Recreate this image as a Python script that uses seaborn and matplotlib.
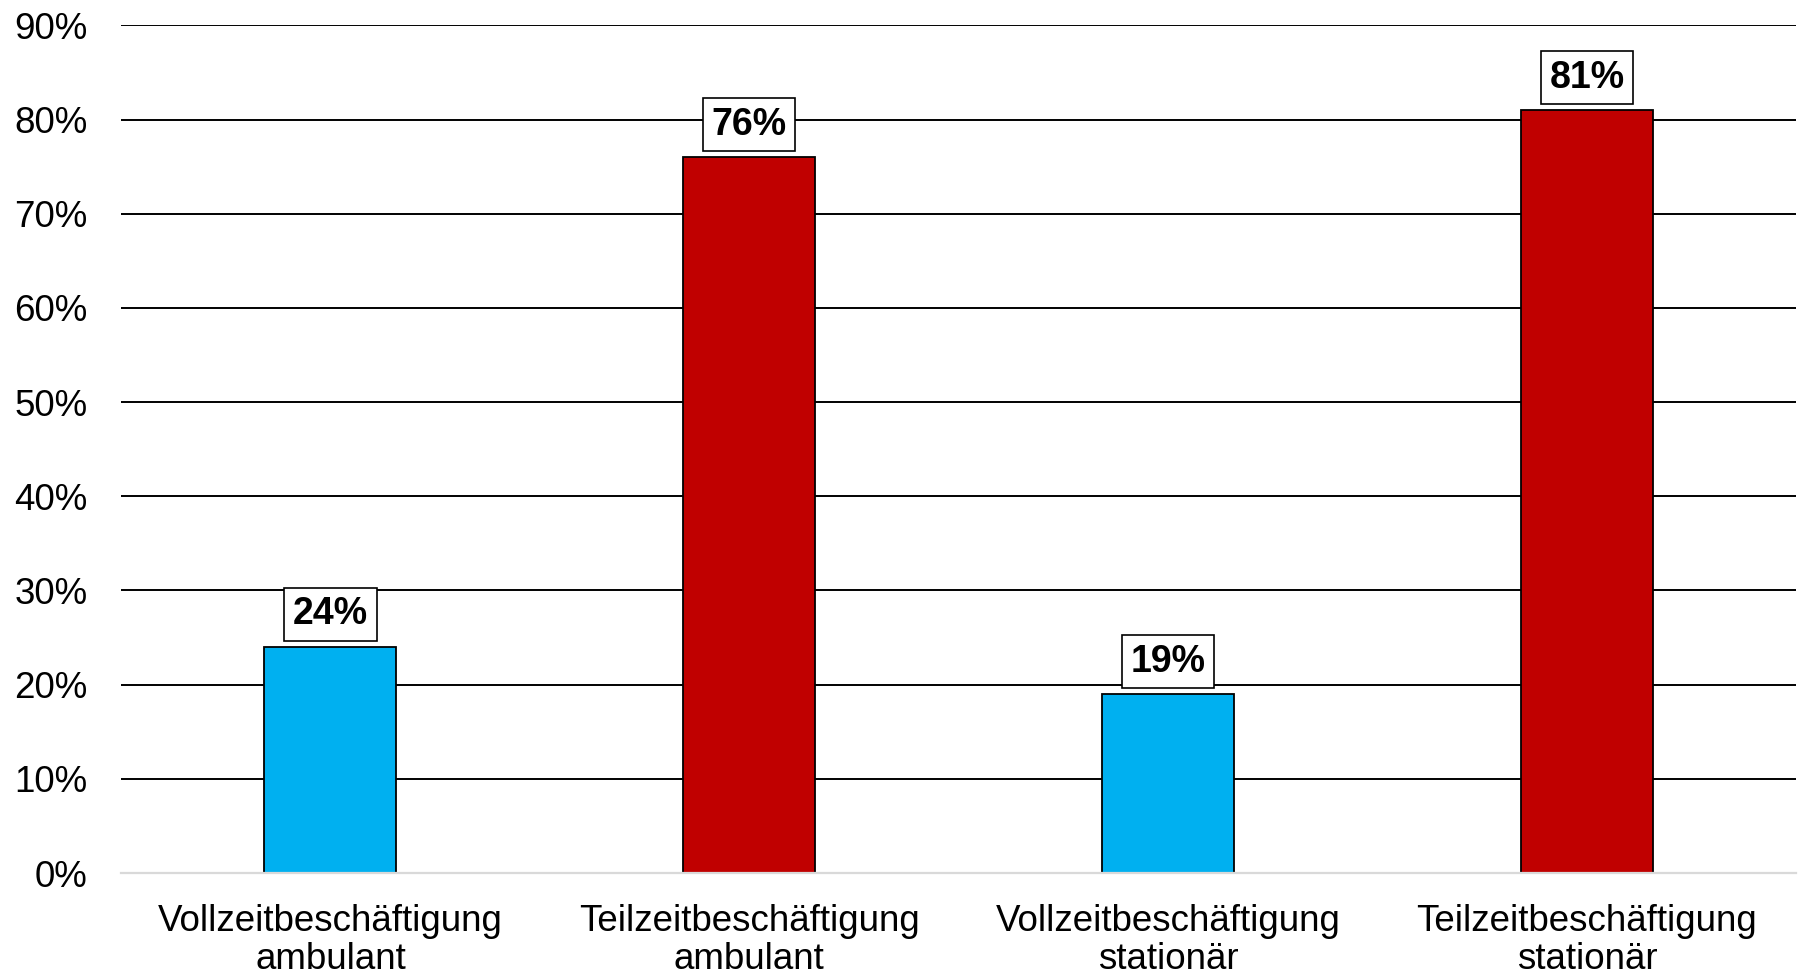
import matplotlib
matplotlib.use("Agg")
import matplotlib.pyplot as plt
import matplotlib.ticker as mticker
import seaborn as sns
import pandas as pd

categories = ["Vollzeitbeschäftigung\nambulant", "Teilzeitbeschäftigung\nambulant",
              "Vollzeitbeschäftigung\nstationär", "Teilzeitbeschäftigung\nstationär"]
shares = [24, 76, 19, 81]
bar_colors = ["#00B0F0", "#C00000", "#00B0F0", "#C00000"]
y_ticks = [0, 10, 20, 30, 40, 50, 60, 70, 80, 90]

sns.set_theme(style="white")
plt.rcParams["font.family"] = ["Liberation Sans", "DejaVu Sans"]

df = pd.DataFrame({"cat": categories, "share": shares})

fig = plt.figure(figsize=(18, 9.77), dpi=100)
ax = fig.add_axes([0.0672, 0.1064, 0.9308, 0.8676])

sns.barplot(data=df, x="cat", y="share", hue="cat", palette=bar_colors,
            width=0.315, edgecolor="black", linewidth=1.3, legend=False,
            saturation=1, ax=ax, zorder=3)

ax.set_ylim(0, 90)
ax.set_xlim(-0.5, 3.5)
ax.set_yticks(y_ticks)
ax.yaxis.set_major_formatter(mticker.FuncFormatter(lambda v, _: f"{v:.0f}%"))
ax.grid(axis="y", color="black", linewidth=1.4, zorder=0)
ax.set_axisbelow(True)

for side in ["top", "right", "left"]:
    ax.spines[side].set_visible(False)
ax.spines["bottom"].set_color("#d9d9d9")
ax.spines["bottom"].set_linewidth(1.6)
ax.spines["bottom"].set_zorder(4)

ax.tick_params(axis="y", length=0, pad=24, labelsize=26.5, labelcolor="black")
ax.tick_params(axis="x", length=0, pad=22, labelsize=26.5, labelcolor="black")
for lbl in ax.get_xticklabels():
    lbl.set_linespacing(1.13)
ax.set_xlabel("")
ax.set_ylabel("")

for cont, val in zip(ax.containers, shares):
    ax.bar_label(cont, labels=[f"{val}%"], padding=10.5, fontsize=27,
                 fontweight="bold", color="black",
                 bbox=dict(boxstyle="square,pad=0.23", facecolor="white",
                           edgecolor="black", linewidth=1.2))

fig.savefig("out.png", dpi=100)
